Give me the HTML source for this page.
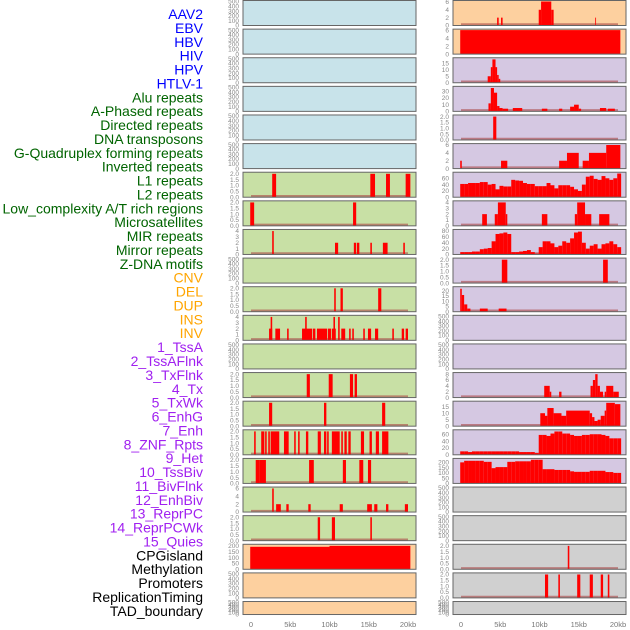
<!DOCTYPE html>
<html><head><meta charset="utf-8"><style>
body{margin:0;background:#fff;}
svg{display:block;font-family:"Liberation Sans",sans-serif;}
</style></head><body>
<svg id="chart" width="630" height="630" viewBox="0 0 630 630"></svg>
<script>
// ---------- labels ----------
const labelNames=["AAV2","EBV","HBV","HIV","HPV","HTLV-1","Alu repeats","A-Phased repeats","Directed repeats","DNA transposons","G-Quadruplex forming repeats","Inverted repeats","L1 repeats","L2 repeats","Low_complexity A/T rich regions","Microsatellites","MIR repeats","Mirror repeats","Z-DNA motifs","CNV","DEL","DUP","INS","INV","1_TssA","2_TssAFlnk","3_TxFlnk","4_Tx","5_TxWk","6_EnhG","7_Enh","8_ZNF_Rpts","9_Het","10_TssBiv","11_BivFlnk","12_EnhBiv","13_ReprPC","14_ReprPCWk","15_Quies","CPGisland","Methylation","Promoters","ReplicationTiming","TAD_boundary"];
const labelGroups=[6,13,5,15,5];
const groupColors=["#0000ff","#006400","#ffa500","#a020f0","#000000"];
const xTicks=[0,5,10,15,20];
const xTickLabels=["0","5kb","10kb","15kb","20kb"];

// ---------- left column data (kb start, kb end, value) ----------
const leftL6=[[2.7,3.2,2],[15.2,15.8,2],[17.2,17.7,2],[19.7,20.3,2]];
const leftL7=[[-0.1,0.4,2],[13.0,13.4,2]];
const leftL8=[[2.7,2.9,4],[10.7,11.1,2],[13.1,13.4,2],[13.5,13.8,2],[15.2,15.4,2],[16.8,17.4,2],[19.4,19.6,2]];
const leftL10=[[10.6,10.8,2],[11.4,11.7,2],[16.2,16.6,2]];
const leftL11=[[2.3,2.7,2],[2.5,2.7,4],[3.1,3.7,2],[4.6,4.8,2],[6.5,7.8,2],[6.9,7.1,4],[7.9,8.2,2],[8.4,9.7,2],[9.8,10.2,2],[10.3,10.8,2],[10.5,10.7,4],[11.1,11.3,4],[11.5,12.0,2],[12.5,12.7,2],[12.9,13.1,2],[14.3,14.5,2],[14.9,15.3,2],[15.8,16.2,2],[18.0,18.2,2],[19.2,19.5,2],[19.7,20.0,2]];
const leftL13=[[7.1,7.5,2],[9.9,10.4,2],[12.6,13.0,2],[13.2,13.5,2]];
const leftL14=[[2.3,2.7,2],[9.3,9.6,2],[16.7,17.1,2]];
const leftL15=[[0.4,0.6,2],[1.3,1.7,2],[1.8,2.0,2],[2.2,2.4,2],[2.5,3.6,2],[4.2,4.8,2],[5.5,5.7,2],[6.0,6.2,2],[7.0,7.3,2],[8.5,8.9,2],[9.3,9.6,2],[9.7,9.9,2],[10.3,11.3,2],[11.5,11.7,2],[11.9,12.2,2],[12.4,12.7,2],[14.0,14.4,2],[15.1,15.4,2],[15.9,16.3,2],[16.7,17.5,2]];
const leftL16=[[0.6,1.1,2],[1.1,1.9,2],[7.4,8.0,2],[11.7,12.1,2],[13.8,14.3,2],[14.9,15.3,2]];
const leftL17=[[2.7,2.9,6],[3.2,3.8,2],[4.5,4.8,2],[7.3,7.6,2],[11.3,11.7,2],[14.8,15.4,2],[15.7,16.1,2],[17.2,17.5,2],[19.6,20.0,2]];
const leftL18=[[8.5,8.8,2],[10.3,10.7,2],[15.2,15.4,2]];
const leftL19=[[-0.1,10.0,192],[10.0,20.3,200]];

// ---------- right column data ----------
const rightR0=[[4.6,4.8,2],[5.1,5.3,2],[9.9,10.2,4],[10.2,11.5,7],[11.5,11.8,4],[17.1,17.2,2]];
const rightR1=[[-0.1,20.3,7]];
const rightR2=[[3.4,3.8,5],[3.8,4.0,12],[4.0,4.4,18],[4.4,4.6,12],[4.6,4.8,6],[4.8,5.0,3]];
const rightR3=[[3.5,3.8,12],[3.8,4.2,35],[4.2,4.6,28],[4.6,4.9,8],[4.9,5.3,5],[5.3,6.0,4],[6.6,7.8,5],[10.3,11.0,4],[12.5,12.9,4],[13.9,14.4,7],[14.4,15.0,10],[15.0,15.3,4],[17.7,18.5,5],[18.7,19.6,4]];
const rightR4=[[4.1,4.5,2]];
const rightR5=[[-0.1,0.1,2],[5.1,5.9,2],[12.5,13.5,2],[13.5,15.0,4],[15.5,16.3,2],[16.3,18.5,4],[18.5,20.3,6]];
const rightR6Bins=[42,42,45,45,45,48,48,40,42,25,36,34,34,55,53,52,45,42,42,35,35,35,45,38,28,38,38,38,33,25,20,40,65,68,58,55,67,60,55,60,75];
const rightR7=[[2.7,3.3,2],[4.3,4.7,2],[4.7,5.7,4],[5.7,5.9,2],[10.3,11.0,2],[14.5,14.8,2],[14.8,15.8,4],[15.8,16.6,2],[17.6,18.9,2]];
const rightR8Bins=[8,8,8,10,10,18,20,22,45,70,72,75,70,8,8,10,12,15,8,3,25,45,45,38,25,30,45,40,55,75,78,40,20,30,35,20,35,38,45,35,25];
const rightR9=[[5.2,5.9,2],[18.1,18.7,2]];
const rightR10=[[-0.1,0.1,22],[0.1,0.4,16],[0.4,0.8,7],[0.8,1.2,3],[2.4,3.4,3],[4.8,5.8,3]];
const rightR13=[[10.6,11.3,4],[11.3,11.5,2],[12.5,12.8,2],[16.5,16.8,4],[16.8,17.1,6],[17.1,17.4,8],[17.4,17.7,4],[17.7,18.1,2],[18.3,18.5,2],[18.5,19.4,4],[19.4,20.1,2]];
const rightR14=[[10.1,10.7,10],[10.7,11.0,8],[11.0,11.8,14],[11.8,12.8,10],[12.8,13.4,8],[13.4,16.4,12],[16.4,16.7,10],[16.7,17.0,7],[17.0,17.4,4],[17.4,17.8,5],[17.8,18.3,8],[18.3,18.5,12],[18.5,19.6,18],[19.6,20.3,17]];
const rightR15Bins=[10,10,8,10,10,10,10,10,10,10,10,10,10,10,10,8,8,8,8,5,58,58,55,62,68,68,62,62,58,55,55,58,58,60,60,60,58,55,48,48,48];
const rightR16Bins=[200,215,215,215,215,215,205,205,145,155,155,155,205,205,210,210,210,210,225,225,225,135,135,135,128,128,128,128,115,110,110,110,110,120,120,120,120,108,108,100,100];
const rightR19=[[13.6,13.8,2]];
const rightR20=[[10.7,11.1,2],[12.4,12.6,2],[14.8,15.2,2],[16.4,16.8,2],[17.8,18.1,2],[18.7,18.9,2]];

// ---------- axis configs ----------
const T500={max:500,ticks:[0,100,200,300,400,500],fmt:v=>String(v)};
const T2={max:2.05,ticks:[0,0.5,1,1.5,2],fmt:v=>v.toFixed(1)};
const T4={max:4.1,ticks:[0,1,2,3,4],fmt:v=>String(v)};
const T6={max:6.1,ticks:[0,2,4,6],fmt:v=>String(v)};
const T8={max:8.2,ticks:[0,2,4,6,8],fmt:v=>String(v)};
const T18={max:18.5,ticks:[0,5,10,15],fmt:v=>String(v)};
const T22={max:23,ticks:[0,5,10,15,20],fmt:v=>String(v)};
const T35={max:36,ticks:[0,10,20,30],fmt:v=>String(v)};
const T75={max:76,ticks:[0,20,40,60],fmt:v=>String(v)};
const T80={max:82,ticks:[0,20,40,60,80],fmt:v=>String(v)};
const T68={max:70,ticks:[0,20,40,60],fmt:v=>String(v)};
const T200={max:205,ticks:[0,50,100,150,200],fmt:v=>String(v)};
const T230={max:228,ticks:[0,50,100,150,200],fmt:v=>String(v)};

const BLUE="#c8e3ea",GREEN="#c8e0a5",ORANGE="#fdd09f",PURPLE="#d5c8e2",GREY="#d0d0d0";
function binsToBars(b){return b.map((v,i)=>[-0.1+i*0.5,-0.1+(i+1)*0.5,v]);}

const leftCol=[
 [BLUE,T500,null],[BLUE,T500,null],[BLUE,T500,null],[BLUE,T500,null],[BLUE,T500,null],[BLUE,T500,null],
 [GREEN,T2,leftL6],[GREEN,T2,leftL7],[GREEN,T4,leftL8],[GREEN,T500,null],[GREEN,T2,leftL10],[GREEN,T4,leftL11],
 [GREEN,T500,null],[GREEN,T2,leftL13],[GREEN,T2,leftL14],[GREEN,T2,leftL15],[GREEN,T2,leftL16],[GREEN,T6,leftL17],
 [GREEN,T2,leftL18],[ORANGE,T200,leftL19],[ORANGE,T500,null],[ORANGE,T500,null]];
const rightCol=[
 [ORANGE,T6,rightR0],[ORANGE,T6,rightR1],[PURPLE,T18,rightR2],[PURPLE,T35,rightR3],[PURPLE,T2,rightR4],[PURPLE,T6,rightR5],
 [PURPLE,T75,binsToBars(rightR6Bins)],[PURPLE,T4,rightR7],[PURPLE,T80,binsToBars(rightR8Bins)],[PURPLE,T2,rightR9],
 [PURPLE,T22,rightR10],[PURPLE,T500,null],[PURPLE,T500,null],[PURPLE,T8,rightR13],[PURPLE,T18,rightR14],
 [PURPLE,T68,binsToBars(rightR15Bins)],[PURPLE,T230,binsToBars(rightR16Bins)],[GREY,T500,null],[GREY,T500,null],
 [GREY,T2,rightR19],[GREY,T2,rightR20],[GREY,T500,null]];

const svg=document.getElementById('chart');
const NS="http://www.w3.org/2000/svg";
function mk(tag,attrs,parent){const e=document.createElementNS(NS,tag);for(const k in attrs)e.setAttribute(k,attrs[k]);(parent||svg).appendChild(e);return e;}

// labels
let gi=0,cnt=0;
labelNames.forEach((name,k)=>{
  while(cnt>=labelGroups[gi]){cnt=0;gi++;}
  cnt++;
  const t=mk('text',{x:203,y:14+13.88*k,'text-anchor':'end','dominant-baseline':'central','font-size':14,fill:groupColors[gi]});
  t.textContent=name;
  
  
});

function rowTop(i){return 0.5+28.62*i;}
function rowH(i){return i===21?13:25;}

function drawCol(col,px0,x0kb,tickX,colName){
  const kbScale=7.85;
  const xs=kb=>x0kb+kb*kbScale;
  col.forEach((p,i)=>{
    const [bg,ax,data]=p;
    const top=rowTop(i),h=rowH(i),bot=top+h;
    const g=mk('g',{});
    
    
    mk('rect',{x:px0,y:top,width:173,height:h,fill:bg},g);
    const ys=v=>bot-Math.min(v,ax.max)/ax.max*(h-1);
    const cid='c'+colName+i;
    const cp=mk('clipPath',{id:cid},g);
    mk('rect',{x:px0,y:top,width:173,height:h},cp);
    if(data){
      mk('line',{x1:xs(0),x2:xs(20),y1:bot-1.2,y2:bot-1.2,stroke:'rgba(170,70,70,0.6)','stroke-width':2},g);
      data.forEach(d=>{
        const r=mk('rect',{x:xs(d[0]),y:ys(d[2]),width:Math.max(0.8,xs(d[1])-xs(d[0])),height:bot-ys(d[2]),fill:'#ff0000','clip-path':'url(#'+cid+')'},g);
        
        
      });
    }
    mk('rect',{x:px0,y:top,width:173,height:h,fill:'none',stroke:'#666','stroke-width':1},g);
    ax.ticks.forEach(v=>{
      const t=mk('text',{x:tickX,y:ys(v)+2.2,'text-anchor':'end','font-size':6.5,fill:'#888'},g);
      t.textContent=ax.fmt(v);
    });
  });
  xTicks.forEach((v,k)=>{
    const t=mk('text',{x:xs(v),y:627,'text-anchor':'middle','font-size':7.5,fill:'#777'});
    t.textContent=xTickLabels[k];
    
    
  });
}
drawCol(leftCol,243,251,239,'left');
drawCol(rightCol,453,461,449,'right');
</script>
</body></html>
